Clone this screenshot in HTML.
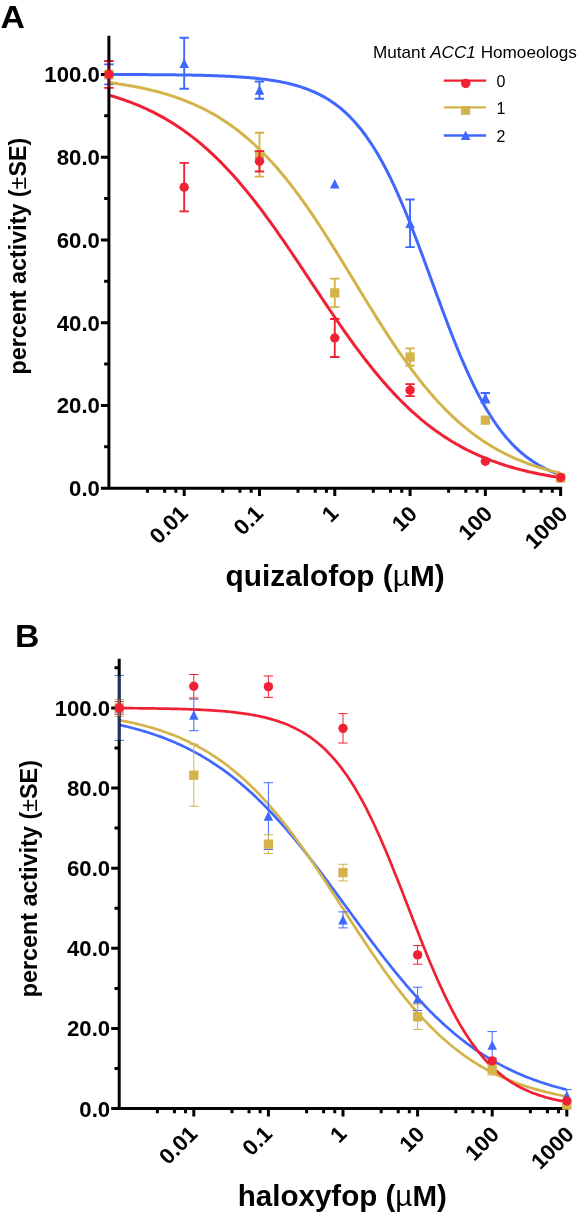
<!DOCTYPE html>
<html lang="en"><head><meta charset="utf-8"><title>Dose response: quizalofop and haloxyfop</title>
<style>html,body{margin:0;padding:0;background:#fff}svg{display:block;will-change:transform;opacity:.999}</style></head><body>
<svg width="579" height="1218" viewBox="0 0 579 1218">
<rect width="579" height="1218" fill="#fff"/>
<g id="panelA">
<path d="M108.9 64.39V84.41M104.2 64.39H113.6M104.2 84.41H113.6" stroke="#4068FF" stroke-width="1.9" fill="none"/>
<path d="M108.9 71.92V76.88M104.2 71.92H113.6M104.2 76.88H113.6" stroke="#D4B44A" stroke-width="1.9" fill="none"/>
<path d="M108.9 60.95V87.85M104.2 60.95H113.6M104.2 87.85H113.6" stroke="#F02035" stroke-width="1.9" fill="none"/>
<path d="M108.9 69.65L113.65 79.15H104.15Z" fill="#4068FF"/>
<rect x="104.25" y="69.75" width="9.3" height="9.3" fill="#D4B44A"/>
<path d="M108.9 74.48L110.78 74.48L112.66 74.49L114.55 74.49L116.43 74.5L118.31 74.5L120.19 74.51L122.08 74.51L123.96 74.52L125.84 74.53L127.72 74.53L129.6 74.54L131.49 74.55L133.37 74.55L135.25 74.56L137.13 74.57L139.02 74.58L140.9 74.59L142.78 74.6L144.66 74.61L146.55 74.62L148.43 74.63L150.31 74.64L152.19 74.65L154.07 74.67L155.96 74.68L157.84 74.69L159.72 74.71L161.6 74.72L163.49 74.74L165.37 74.76L167.25 74.78L169.13 74.8L171.01 74.82L172.9 74.84L174.78 74.86L176.66 74.88L178.54 74.91L180.43 74.93L182.31 74.96L184.19 74.99L186.07 75.02L187.95 75.05L189.84 75.08L191.72 75.12L193.6 75.16L195.48 75.19L197.37 75.23L199.25 75.28L201.13 75.32L203.01 75.37L204.89 75.42L206.78 75.47L208.66 75.52L210.54 75.58L212.42 75.64L214.31 75.7L216.19 75.77L218.07 75.84L219.95 75.91L221.84 75.99L223.72 76.07L225.6 76.16L227.48 76.25L229.36 76.34L231.25 76.44L233.13 76.54L235.01 76.65L236.89 76.77L238.78 76.89L240.66 77.01L242.54 77.14L244.42 77.28L246.3 77.43L248.19 77.58L250.07 77.74L251.95 77.91L253.83 78.09L255.72 78.28L257.6 78.47L259.48 78.68L261.36 78.9L263.24 79.12L265.13 79.36L267.01 79.61L268.89 79.87L270.77 80.15L272.66 80.44L274.54 80.74L276.42 81.06L278.3 81.39L280.18 81.75L282.07 82.11L283.95 82.5L285.83 82.9L287.71 83.33L289.6 83.78L291.48 84.24L293.36 84.73L295.24 85.25L297.12 85.78L299.01 86.35L300.89 86.94L302.77 87.56L304.65 88.21L306.54 88.89L308.42 89.6L310.3 90.35L312.18 91.13L314.07 91.95L315.95 92.8L317.83 93.7L319.71 94.64L321.59 95.62L323.48 96.64L325.36 97.71L327.24 98.83L329.12 100.01L331.01 101.23L332.89 102.5L334.77 103.84L336.65 105.23L338.53 106.68L340.42 108.19L342.3 109.77L344.18 111.41L346.06 113.13L347.95 114.91L349.83 116.77L351.71 118.7L353.59 120.71L355.47 122.79L357.36 124.96L359.24 127.22L361.12 129.55L363 131.98L364.89 134.49L366.77 137.09L368.65 139.79L370.53 142.58L372.42 145.46L374.3 148.44L376.18 151.51L378.06 154.69L379.94 157.96L381.83 161.33L383.71 164.8L385.59 168.36L387.47 172.03L389.36 175.79L391.24 179.65L393.12 183.61L395 187.66L396.88 191.8L398.77 196.03L400.65 200.35L402.53 204.75L404.41 209.24L406.3 213.8L408.18 218.44L410.06 223.15L411.94 227.93L413.82 232.77L415.71 237.67L417.59 242.61L419.47 247.61L421.35 252.64L423.24 257.71L425.12 262.81L427 267.93L428.88 273.06L430.76 278.21L432.65 283.36L434.53 288.51L436.41 293.65L438.29 298.77L440.18 303.87L442.06 308.95L443.94 313.99L445.82 318.99L447.71 323.95L449.59 328.86L451.47 333.71L453.35 338.5L455.23 343.22L457.12 347.87L459 352.45L460.88 356.96L462.76 361.38L464.65 365.71L466.53 369.96L468.41 374.12L470.29 378.19L472.17 382.17L474.06 386.04L475.94 389.83L477.82 393.51L479.7 397.1L481.59 400.59L483.47 403.98L485.35 407.27L487.23 410.46L489.11 413.56L491 416.55L492.88 419.46L494.76 422.26L496.64 424.98L498.53 427.6L500.41 430.13L502.29 432.57L504.17 434.92L506.05 437.19L507.94 439.38L509.82 441.48L511.7 443.51L513.58 445.45L515.47 447.32L517.35 449.12L519.23 450.85L521.11 452.51L523 454.1L524.88 455.62L526.76 457.09L528.64 458.49L530.52 459.83L532.41 461.12L534.29 462.35L536.17 463.54L538.05 464.67L539.94 465.75L541.82 466.78L543.7 467.77L545.58 468.72L547.46 469.62L549.35 470.48L551.23 471.31L553.11 472.1L554.99 472.85L556.88 473.57L558.76 474.26L560.64 474.91" stroke="#4068FF" stroke-width="3.0" fill="none" stroke-linejoin="round"/>
<path d="M108.9 82.58L110.78 82.83L112.66 83.08L114.55 83.34L116.43 83.6L118.31 83.87L120.19 84.16L122.08 84.44L123.96 84.74L125.84 85.05L127.72 85.36L129.6 85.69L131.49 86.02L133.37 86.36L135.25 86.72L137.13 87.08L139.02 87.45L140.9 87.84L142.78 88.23L144.66 88.64L146.55 89.05L148.43 89.48L150.31 89.92L152.19 90.38L154.07 90.84L155.96 91.32L157.84 91.81L159.72 92.32L161.6 92.84L163.49 93.38L165.37 93.93L167.25 94.49L169.13 95.07L171.01 95.67L172.9 96.28L174.78 96.91L176.66 97.55L178.54 98.21L180.43 98.9L182.31 99.59L184.19 100.31L186.07 101.05L187.95 101.81L189.84 102.58L191.72 103.38L193.6 104.19L195.48 105.03L197.37 105.89L199.25 106.77L201.13 107.68L203.01 108.61L204.89 109.56L206.78 110.53L208.66 111.53L210.54 112.56L212.42 113.61L214.31 114.68L216.19 115.78L218.07 116.91L219.95 118.07L221.84 119.25L223.72 120.46L225.6 121.7L227.48 122.97L229.36 124.27L231.25 125.6L233.13 126.95L235.01 128.34L236.89 129.76L238.78 131.21L240.66 132.7L242.54 134.21L244.42 135.76L246.3 137.34L248.19 138.96L250.07 140.6L251.95 142.28L253.83 144L255.72 145.75L257.6 147.54L259.48 149.36L261.36 151.21L263.24 153.1L265.13 155.03L267.01 156.99L268.89 158.98L270.77 161.02L272.66 163.08L274.54 165.19L276.42 167.33L278.3 169.5L280.18 171.71L282.07 173.96L283.95 176.24L285.83 178.55L287.71 180.9L289.6 183.29L291.48 185.71L293.36 188.16L295.24 190.64L297.12 193.16L299.01 195.71L300.89 198.3L302.77 200.91L304.65 203.55L306.54 206.23L308.42 208.93L310.3 211.66L312.18 214.42L314.07 217.21L315.95 220.02L317.83 222.86L319.71 225.72L321.59 228.6L323.48 231.51L325.36 234.44L327.24 237.39L329.12 240.35L331.01 243.34L332.89 246.34L334.77 249.35L336.65 252.38L338.53 255.42L340.42 258.48L342.3 261.54L344.18 264.61L346.06 267.69L347.95 270.78L349.83 273.87L351.71 276.97L353.59 280.06L355.47 283.16L357.36 286.25L359.24 289.35L361.12 292.44L363 295.52L364.89 298.6L366.77 301.67L368.65 304.73L370.53 307.78L372.42 310.82L374.3 313.85L376.18 316.86L378.06 319.86L379.94 322.84L381.83 325.8L383.71 328.75L385.59 331.67L387.47 334.57L389.36 337.45L391.24 340.31L393.12 343.14L395 345.95L396.88 348.73L398.77 351.49L400.65 354.21L402.53 356.91L404.41 359.58L406.3 362.22L408.18 364.82L410.06 367.4L411.94 369.94L413.82 372.46L415.71 374.94L417.59 377.38L419.47 379.79L421.35 382.17L423.24 384.51L425.12 386.82L427 389.1L428.88 391.33L430.76 393.54L432.65 395.71L434.53 397.84L436.41 399.93L438.29 401.99L440.18 404.02L442.06 406.01L443.94 407.96L445.82 409.88L447.71 411.76L449.59 413.61L451.47 415.42L453.35 417.2L455.23 418.95L457.12 420.65L459 422.33L460.88 423.97L462.76 425.58L464.65 427.15L466.53 428.69L468.41 430.2L470.29 431.68L472.17 433.12L474.06 434.54L475.94 435.92L477.82 437.27L479.7 438.59L481.59 439.89L483.47 441.15L485.35 442.38L487.23 443.59L489.11 444.77L491 445.92L492.88 447.04L494.76 448.14L496.64 449.21L498.53 450.25L500.41 451.27L502.29 452.26L504.17 453.23L506.05 454.18L507.94 455.1L509.82 456L511.7 456.88L513.58 457.74L515.47 458.57L517.35 459.38L519.23 460.18L521.11 460.95L523 461.7L524.88 462.43L526.76 463.15L528.64 463.84L530.52 464.52L532.41 465.18L534.29 465.82L536.17 466.45L538.05 467.05L539.94 467.65L541.82 468.22L543.7 468.79L545.58 469.33L547.46 469.86L549.35 470.38L551.23 470.88L553.11 471.37L554.99 471.85L556.88 472.31L558.76 472.77L560.64 473.2" stroke="#D4B44A" stroke-width="3.0" fill="none" stroke-linejoin="round"/>
<path d="M108.9 95.11L110.78 95.65L112.66 96.22L114.55 96.79L116.43 97.38L118.31 97.98L120.19 98.6L122.08 99.23L123.96 99.88L125.84 100.55L127.72 101.23L129.6 101.92L131.49 102.64L133.37 103.37L135.25 104.12L137.13 104.88L139.02 105.67L140.9 106.47L142.78 107.29L144.66 108.13L146.55 109L148.43 109.88L150.31 110.78L152.19 111.7L154.07 112.64L155.96 113.6L157.84 114.59L159.72 115.6L161.6 116.63L163.49 117.68L165.37 118.75L167.25 119.85L169.13 120.98L171.01 122.12L172.9 123.3L174.78 124.49L176.66 125.71L178.54 126.96L180.43 128.23L182.31 129.53L184.19 130.86L186.07 132.21L187.95 133.59L189.84 135L191.72 136.43L193.6 137.89L195.48 139.38L197.37 140.9L199.25 142.45L201.13 144.02L203.01 145.63L204.89 147.26L206.78 148.92L208.66 150.62L210.54 152.34L212.42 154.09L214.31 155.87L216.19 157.68L218.07 159.52L219.95 161.4L221.84 163.3L223.72 165.23L225.6 167.19L227.48 169.18L229.36 171.2L231.25 173.26L233.13 175.34L235.01 177.45L236.89 179.59L238.78 181.75L240.66 183.95L242.54 186.18L244.42 188.43L246.3 190.71L248.19 193.02L250.07 195.36L251.95 197.72L253.83 200.11L255.72 202.53L257.6 204.97L259.48 207.44L261.36 209.93L263.24 212.44L265.13 214.98L267.01 217.54L268.89 220.12L270.77 222.72L272.66 225.35L274.54 227.99L276.42 230.65L278.3 233.33L280.18 236.03L282.07 238.74L283.95 241.47L285.83 244.21L287.71 246.97L289.6 249.73L291.48 252.51L293.36 255.3L295.24 258.11L297.12 260.91L299.01 263.73L300.89 266.55L302.77 269.38L304.65 272.22L306.54 275.05L308.42 277.89L310.3 280.73L312.18 283.57L314.07 286.41L315.95 289.25L317.83 292.08L319.71 294.92L321.59 297.74L323.48 300.56L325.36 303.37L327.24 306.18L329.12 308.97L331.01 311.76L332.89 314.53L334.77 317.29L336.65 320.04L338.53 322.77L340.42 325.49L342.3 328.19L344.18 330.88L346.06 333.55L347.95 336.2L349.83 338.83L351.71 341.44L353.59 344.03L355.47 346.6L357.36 349.14L359.24 351.67L361.12 354.17L363 356.64L364.89 359.1L366.77 361.52L368.65 363.92L370.53 366.3L372.42 368.64L374.3 370.97L376.18 373.26L378.06 375.52L379.94 377.76L381.83 379.97L383.71 382.15L385.59 384.3L387.47 386.42L389.36 388.52L391.24 390.58L393.12 392.61L395 394.62L396.88 396.59L398.77 398.53L400.65 400.45L402.53 402.33L404.41 404.18L406.3 406.01L408.18 407.8L410.06 409.56L411.94 411.3L413.82 413L415.71 414.68L417.59 416.32L419.47 417.94L421.35 419.53L423.24 421.08L425.12 422.61L427 424.12L428.88 425.59L430.76 427.03L432.65 428.45L434.53 429.84L436.41 431.2L438.29 432.54L440.18 433.85L442.06 435.13L443.94 436.39L445.82 437.62L447.71 438.83L449.59 440.01L451.47 441.17L453.35 442.3L455.23 443.41L457.12 444.49L459 445.56L460.88 446.59L462.76 447.61L464.65 448.6L466.53 449.58L468.41 450.53L470.29 451.46L472.17 452.37L474.06 453.26L475.94 454.12L477.82 454.97L479.7 455.8L481.59 456.61L483.47 457.4L485.35 458.18L487.23 458.93L489.11 459.67L491 460.39L492.88 461.1L494.76 461.78L496.64 462.45L498.53 463.11L500.41 463.75L502.29 464.37L504.17 464.98L506.05 465.58L507.94 466.16L509.82 466.72L511.7 467.28L513.58 467.81L515.47 468.34L517.35 468.85L519.23 469.35L521.11 469.84L523 470.32L524.88 470.78L526.76 471.23L528.64 471.67L530.52 472.1L532.41 472.52L534.29 472.93L536.17 473.33L538.05 473.72L539.94 474.1L541.82 474.47L543.7 474.83L545.58 475.18L547.46 475.52L549.35 475.85L551.23 476.18L553.11 476.49L554.99 476.8L556.88 477.1L558.76 477.4L560.64 477.68" stroke="#F02035" stroke-width="3.0" fill="none" stroke-linejoin="round"/>
<path d="M108.9 35.7V489.7M100.9 488.2H562.14M100.9 488.2H108.9M100.9 405.44H108.9M100.9 322.68H108.9M100.9 239.92H108.9M100.9 157.16H108.9M100.9 74.4H108.9M104.15 446.82H108.9M104.15 364.06H108.9M104.15 281.3H108.9M104.15 198.54H108.9M104.15 115.78H108.9M184.19 488.2V496M259.48 488.2V496M334.77 488.2V496M410.06 488.2V496M485.35 488.2V496M560.64 488.2V496M147.44 488.2V492.8M164.64 488.2V492.8M175.86 488.2V492.8M222.73 488.2V492.8M239.93 488.2V492.8M251.15 488.2V492.8M298.02 488.2V492.8M315.22 488.2V492.8M326.44 488.2V492.8M373.31 488.2V492.8M390.51 488.2V492.8M401.73 488.2V492.8M448.6 488.2V492.8M465.8 488.2V492.8M477.02 488.2V492.8M523.89 488.2V492.8M541.09 488.2V492.8M552.31 488.2V492.8" stroke="#000" stroke-width="3.0" fill="none"/>
<path d="M108.9 60.95V87.85" stroke="#F02035" stroke-width="0.8" fill="none"/>
<path d="M184.19 37.78V88.68M179.49 37.78H188.89M179.49 88.68H188.89" stroke="#4068FF" stroke-width="1.9" fill="none"/>
<path d="M184.19 58.48L188.94 67.98H179.44Z" fill="#4068FF"/>
<path d="M184.19 162.91V211.41M179.49 162.91H188.89M179.49 211.41H188.89" stroke="#F02035" stroke-width="1.9" fill="none"/>
<circle cx="184.19" cy="187.16" r="4.7" fill="#F02035"/>
<path d="M259.48 81.43V98.81M254.78 81.43H264.18M254.78 98.81H264.18" stroke="#4068FF" stroke-width="1.9" fill="none"/>
<path d="M259.48 85.37L264.23 94.87H254.73Z" fill="#4068FF"/>
<path d="M259.48 132.75V176.61M254.78 132.75H264.18M254.78 176.61H264.18" stroke="#D4B44A" stroke-width="1.9" fill="none"/>
<rect x="254.83" y="150.03" width="9.3" height="9.3" fill="#D4B44A"/>
<path d="M259.48 151.16V171.44M254.78 151.16H264.18M254.78 171.44H264.18" stroke="#F02035" stroke-width="1.9" fill="none"/>
<circle cx="259.48" cy="161.3" r="4.7" fill="#F02035"/>
<path d="M334.77 179.1L339.52 188.6H330.02Z" fill="#4068FF"/>
<path d="M334.77 278.61V307.16M330.07 278.61H339.47M330.07 307.16H339.47" stroke="#D4B44A" stroke-width="1.9" fill="none"/>
<rect x="330.12" y="288.24" width="9.3" height="9.3" fill="#D4B44A"/>
<path d="M334.77 318.96V357.03M330.07 318.96H339.47M330.07 357.03H339.47" stroke="#F02035" stroke-width="1.9" fill="none"/>
<circle cx="334.77" cy="337.99" r="4.7" fill="#F02035"/>
<path d="M410.06 199.57V247.16M405.36 199.57H414.76M405.36 247.16H414.76" stroke="#4068FF" stroke-width="1.9" fill="none"/>
<path d="M410.06 218.62L414.81 228.12H405.31Z" fill="#4068FF"/>
<path d="M410.06 348.34V365.72M405.36 348.34H414.76M405.36 365.72H414.76" stroke="#D4B44A" stroke-width="1.9" fill="none"/>
<rect x="405.41" y="352.38" width="9.3" height="9.3" fill="#D4B44A"/>
<path d="M410.06 384.13V396.13M405.36 384.13H414.76M405.36 396.13H414.76" stroke="#F02035" stroke-width="1.9" fill="none"/>
<circle cx="410.06" cy="390.13" r="4.7" fill="#F02035"/>
<path d="M485.35 393.07V402.58M480.65 393.07H490.05M480.65 402.58H490.05" stroke="#4068FF" stroke-width="1.9" fill="none"/>
<path d="M485.35 393.08L490.1 402.58H480.6Z" fill="#4068FF"/>
<rect x="480.7" y="415.48" width="9.3" height="9.3" fill="#D4B44A"/>
<circle cx="485.35" cy="461.3" r="4.7" fill="#F02035"/>
<path d="M560.64 472.69L565.39 482.19H555.89Z" fill="#4068FF"/>
<rect x="555.99" y="473.21" width="9.3" height="9.3" fill="#D4B44A"/>
<circle cx="560.64" cy="477.44" r="4.7" fill="#F02035"/>
<circle cx="108.9" cy="74.4" r="4.7" fill="#F02035"/>
<g font-family='"Liberation Sans", Arial, Helvetica, sans-serif' font-weight="bold" fill="#000">
<text x="99.9" y="496.1" font-size="22.2" text-anchor="end">0.0</text>
<text x="99.9" y="413.34" font-size="22.2" text-anchor="end">20.0</text>
<text x="99.9" y="330.58" font-size="22.2" text-anchor="end">40.0</text>
<text x="99.9" y="247.82" font-size="22.2" text-anchor="end">60.0</text>
<text x="99.9" y="165.06" font-size="22.2" text-anchor="end">80.0</text>
<text x="99.9" y="82.3" font-size="22.2" text-anchor="end">100.0</text>
<text transform="translate(189.19 514.8) rotate(-45)" font-size="22.2" text-anchor="end">0.01</text>
<text transform="translate(264.48 514.8) rotate(-45)" font-size="22.2" text-anchor="end">0.1</text>
<text transform="translate(339.77 514.8) rotate(-45)" font-size="22.2" text-anchor="end">1</text>
<text transform="translate(418.41 515.3) rotate(-45)" font-size="22.2" text-anchor="end">10</text>
<text transform="translate(493.7 515.3) rotate(-45)" font-size="22.2" text-anchor="end">100</text>
<text transform="translate(568.99 515.3) rotate(-45)" font-size="22.2" text-anchor="end">1000</text>
<text x="335.15" y="586.1" font-size="29.8" text-anchor="middle">quizalofop (<tspan font-weight="normal">µ</tspan>M)</text>
<text transform="translate(26.2 256.15) rotate(-90)" font-size="23.3" text-anchor="middle">percent activity (<tspan font-weight="normal">±</tspan>SE)</text>
<text transform="translate(0.4 28.1) scale(1.09 1)" font-size="31">A</text>
</g>
</g>
<g id="panelB">
<path d="M119.2 675.44V740.36M114.5 675.44H123.9M114.5 740.36H123.9" stroke="#4068FF" stroke-width="1.0" fill="none"/>
<path d="M119.2 699.49V716.31M114.5 699.49H123.9M114.5 716.31H123.9" stroke="#D4B44A" stroke-width="1.0" fill="none"/>
<path d="M119.2 701.61V714.19M114.5 701.61H123.9M114.5 714.19H123.9" stroke="#F02035" stroke-width="1.0" fill="none"/>
<path d="M119.2 703.15L123.95 712.65H114.45Z" fill="#4068FF"/>
<rect x="114.55" y="703.25" width="9.3" height="9.3" fill="#D4B44A"/>
<path d="M119.2 724.81L121.06 725.22L122.93 725.65L124.8 726.09L126.66 726.54L128.53 727L130.39 727.47L132.25 727.95L134.12 728.44L135.99 728.94L137.85 729.46L139.72 729.99L141.58 730.53L143.45 731.08L145.31 731.64L147.18 732.22L149.04 732.81L150.9 733.41L152.77 734.03L154.63 734.66L156.5 735.3L158.37 735.96L160.23 736.64L162.1 737.33L163.96 738.03L165.82 738.75L167.69 739.49L169.55 740.24L171.42 741L173.28 741.79L175.15 742.59L177.01 743.41L178.88 744.24L180.75 745.09L182.61 745.97L184.47 746.85L186.34 747.76L188.2 748.69L190.07 749.63L191.94 750.6L193.8 751.58L195.66 752.59L197.53 753.61L199.39 754.66L201.26 755.72L203.12 756.81L204.99 757.91L206.86 759.04L208.72 760.19L210.59 761.37L212.45 762.56L214.31 763.78L216.18 765.02L218.04 766.28L219.91 767.56L221.77 768.87L223.64 770.21L225.5 771.56L227.37 772.94L229.24 774.34L231.1 775.77L232.96 777.22L234.83 778.7L236.69 780.2L238.56 781.73L240.43 783.28L242.29 784.85L244.16 786.45L246.02 788.08L247.88 789.73L249.75 791.41L251.62 793.11L253.48 794.83L255.34 796.58L257.21 798.36L259.07 800.16L260.94 801.99L262.81 803.84L264.67 805.72L266.54 807.62L268.4 809.54L270.26 811.49L272.13 813.47L274 815.46L275.86 817.49L277.72 819.53L279.59 821.6L281.45 823.69L283.32 825.8L285.19 827.94L287.05 830.1L288.91 832.28L290.78 834.48L292.64 836.7L294.51 838.95L296.38 841.21L298.24 843.49L300.1 845.79L301.97 848.11L303.83 850.45L305.7 852.8L307.56 855.17L309.43 857.56L311.3 859.96L313.16 862.38L315.02 864.81L316.89 867.25L318.75 869.71L320.62 872.18L322.49 874.66L324.35 877.16L326.21 879.66L328.08 882.17L329.94 884.69L331.81 887.21L333.68 889.75L335.54 892.29L337.4 894.83L339.27 897.38L341.13 899.93L343 902.49L344.86 905.05L346.73 907.61L348.59 910.16L350.46 912.72L352.32 915.28L354.19 917.83L356.05 920.38L357.92 922.93L359.78 925.47L361.65 928.01L363.51 930.54L365.38 933.06L367.25 935.58L369.11 938.09L370.97 940.58L372.84 943.07L374.7 945.54L376.57 948.01L378.44 950.46L380.3 952.9L382.16 955.32L384.03 957.73L385.89 960.13L387.76 962.51L389.62 964.87L391.49 967.22L393.35 969.54L395.22 971.85L397.08 974.14L398.95 976.42L400.81 978.67L402.68 980.9L404.54 983.11L406.41 985.3L408.27 987.47L410.14 989.62L412 991.75L413.87 993.85L415.73 995.93L417.6 997.99L419.46 1000.02L421.33 1002.03L423.19 1004.02L425.06 1005.98L426.92 1007.92L428.79 1009.83L430.65 1011.72L432.52 1013.58L434.38 1015.42L436.25 1017.23L438.12 1019.02L439.98 1020.79L441.84 1022.53L443.71 1024.24L445.57 1025.93L447.44 1027.59L449.3 1029.23L451.17 1030.84L453.03 1032.43L454.9 1033.99L456.76 1035.53L458.63 1037.05L460.49 1038.53L462.36 1040L464.22 1041.44L466.09 1042.86L467.95 1044.25L469.82 1045.61L471.68 1046.96L473.55 1048.28L475.41 1049.58L477.28 1050.85L479.14 1052.1L481.01 1053.33L482.87 1054.54L484.74 1055.72L486.6 1056.88L488.47 1058.02L490.33 1059.14L492.2 1060.23L494.06 1061.31L495.93 1062.37L497.79 1063.4L499.66 1064.41L501.52 1065.41L503.39 1066.38L505.25 1067.34L507.12 1068.27L508.98 1069.19L510.85 1070.09L512.72 1070.97L514.58 1071.83L516.45 1072.67L518.31 1073.5L520.17 1074.31L522.04 1075.1L523.9 1075.88L525.77 1076.64L527.63 1077.38L529.5 1078.11L531.37 1078.82L533.23 1079.52L535.1 1080.2L536.96 1080.86L538.82 1081.52L540.69 1082.16L542.55 1082.78L544.42 1083.39L546.28 1083.99L548.15 1084.57L550.01 1085.14L551.88 1085.7L553.75 1086.24L555.61 1086.78L557.48 1087.3L559.34 1087.81L561.2 1088.3L563.07 1088.79L564.93 1089.27L566.8 1089.73" stroke="#4068FF" stroke-width="2.7" fill="none" stroke-linejoin="round"/>
<path d="M119.2 720.16L121.06 720.5L122.93 720.86L124.8 721.23L126.66 721.6L128.53 721.99L130.39 722.39L132.25 722.79L134.12 723.21L135.99 723.64L137.85 724.09L139.72 724.54L141.58 725.01L143.45 725.48L145.31 725.98L147.18 726.48L149.04 727L150.9 727.53L152.77 728.07L154.63 728.63L156.5 729.21L158.37 729.8L160.23 730.4L162.1 731.02L163.96 731.66L165.82 732.31L167.69 732.98L169.55 733.67L171.42 734.37L173.28 735.09L175.15 735.83L177.01 736.59L178.88 737.37L180.75 738.17L182.61 738.98L184.47 739.82L186.34 740.68L188.2 741.56L190.07 742.46L191.94 743.38L193.8 744.32L195.66 745.29L197.53 746.27L199.39 747.29L201.26 748.32L203.12 749.38L204.99 750.47L206.86 751.58L208.72 752.71L210.59 753.87L212.45 755.06L214.31 756.27L216.18 757.51L218.04 758.78L219.91 760.07L221.77 761.4L223.64 762.75L225.5 764.13L227.37 765.53L229.24 766.97L231.1 768.44L232.96 769.94L234.83 771.46L236.69 773.02L238.56 774.61L240.43 776.23L242.29 777.88L244.16 779.56L246.02 781.27L247.88 783.01L249.75 784.79L251.62 786.6L253.48 788.44L255.34 790.31L257.21 792.21L259.07 794.15L260.94 796.11L262.81 798.11L264.67 800.15L266.54 802.21L268.4 804.3L270.26 806.43L272.13 808.59L274 810.78L275.86 813L277.72 815.25L279.59 817.53L281.45 819.84L283.32 822.18L285.19 824.55L287.05 826.95L288.91 829.38L290.78 831.83L292.64 834.31L294.51 836.82L296.38 839.36L298.24 841.92L300.1 844.5L301.97 847.11L303.83 849.74L305.7 852.39L307.56 855.07L309.43 857.76L311.3 860.48L313.16 863.21L315.02 865.96L316.89 868.73L318.75 871.51L320.62 874.31L322.49 877.12L324.35 879.95L326.21 882.79L328.08 885.63L329.94 888.49L331.81 891.35L333.68 894.22L335.54 897.1L337.4 899.98L339.27 902.87L341.13 905.75L343 908.64L344.86 911.53L346.73 914.42L348.59 917.3L350.46 920.18L352.32 923.06L354.19 925.93L356.05 928.79L357.92 931.64L359.78 934.49L361.65 937.32L363.51 940.14L365.38 942.95L367.25 945.75L369.11 948.53L370.97 951.29L372.84 954.04L374.7 956.76L376.57 959.47L378.44 962.16L380.3 964.83L382.16 967.48L384.03 970.1L385.89 972.7L387.76 975.28L389.62 977.83L391.49 980.36L393.35 982.86L395.22 985.34L397.08 987.78L398.95 990.2L400.81 992.59L402.68 994.96L404.54 997.29L406.41 999.59L408.27 1001.87L410.14 1004.11L412 1006.32L413.87 1008.5L415.73 1010.65L417.6 1012.77L419.46 1014.85L421.33 1016.91L423.19 1018.93L425.06 1020.92L426.92 1022.88L428.79 1024.81L430.65 1026.7L432.52 1028.57L434.38 1030.4L436.25 1032.2L438.12 1033.96L439.98 1035.7L441.84 1037.4L443.71 1039.08L445.57 1040.72L447.44 1042.33L449.3 1043.91L451.17 1045.46L453.03 1046.97L454.9 1048.46L456.76 1049.92L458.63 1051.35L460.49 1052.75L462.36 1054.12L464.22 1055.47L466.09 1056.78L467.95 1058.07L469.82 1059.33L471.68 1060.56L473.55 1061.77L475.41 1062.95L477.28 1064.1L479.14 1065.23L481.01 1066.33L482.87 1067.41L484.74 1068.46L486.6 1069.49L488.47 1070.5L490.33 1071.48L492.2 1072.44L494.06 1073.38L495.93 1074.29L497.79 1075.19L499.66 1076.06L501.52 1076.91L503.39 1077.74L505.25 1078.55L507.12 1079.34L508.98 1080.12L510.85 1080.87L512.72 1081.61L514.58 1082.32L516.45 1083.02L518.31 1083.7L520.17 1084.37L522.04 1085.02L523.9 1085.65L525.77 1086.26L527.63 1086.86L529.5 1087.45L531.37 1088.02L533.23 1088.58L535.1 1089.12L536.96 1089.64L538.82 1090.16L540.69 1090.66L542.55 1091.15L544.42 1091.62L546.28 1092.08L548.15 1092.54L550.01 1092.97L551.88 1093.4L553.75 1093.82L555.61 1094.22L557.48 1094.62L559.34 1095L561.2 1095.37L563.07 1095.74L564.93 1096.09L566.8 1096.44" stroke="#D4B44A" stroke-width="2.7" fill="none" stroke-linejoin="round"/>
<path d="M119.2 708.13L121.06 708.14L122.93 708.15L124.8 708.16L126.66 708.18L128.53 708.19L130.39 708.2L132.25 708.22L134.12 708.24L135.99 708.25L137.85 708.27L139.72 708.29L141.58 708.31L143.45 708.33L145.31 708.35L147.18 708.37L149.04 708.39L150.9 708.42L152.77 708.44L154.63 708.47L156.5 708.5L158.37 708.53L160.23 708.56L162.1 708.59L163.96 708.62L165.82 708.66L167.69 708.7L169.55 708.74L171.42 708.78L173.28 708.82L175.15 708.87L177.01 708.91L178.88 708.96L180.75 709.02L182.61 709.07L184.47 709.13L186.34 709.19L188.2 709.25L190.07 709.32L191.94 709.39L193.8 709.46L195.66 709.54L197.53 709.62L199.39 709.7L201.26 709.79L203.12 709.88L204.99 709.98L206.86 710.08L208.72 710.19L210.59 710.3L212.45 710.42L214.31 710.54L216.18 710.67L218.04 710.81L219.91 710.95L221.77 711.1L223.64 711.26L225.5 711.42L227.37 711.59L229.24 711.77L231.1 711.96L232.96 712.16L234.83 712.37L236.69 712.59L238.56 712.81L240.43 713.05L242.29 713.3L244.16 713.57L246.02 713.84L247.88 714.13L249.75 714.43L251.62 714.75L253.48 715.08L255.34 715.43L257.21 715.79L259.07 716.17L260.94 716.57L262.81 716.99L264.67 717.43L266.54 717.88L268.4 718.36L270.26 718.86L272.13 719.39L274 719.94L275.86 720.51L277.72 721.12L279.59 721.74L281.45 722.4L283.32 723.09L285.19 723.81L287.05 724.56L288.91 725.35L290.78 726.17L292.64 727.02L294.51 727.92L296.38 728.86L298.24 729.83L300.1 730.85L301.97 731.92L303.83 733.03L305.7 734.18L307.56 735.39L309.43 736.65L311.3 737.96L313.16 739.32L315.02 740.75L316.89 742.23L318.75 743.77L320.62 745.37L322.49 747.04L324.35 748.77L326.21 750.57L328.08 752.44L329.94 754.38L331.81 756.4L333.68 758.49L335.54 760.65L337.4 762.9L339.27 765.22L341.13 767.62L343 770.11L344.86 772.68L346.73 775.34L348.59 778.08L350.46 780.91L352.32 783.83L354.19 786.83L356.05 789.93L357.92 793.11L359.78 796.39L361.65 799.75L363.51 803.2L365.38 806.74L367.25 810.37L369.11 814.08L370.97 817.88L372.84 821.76L374.7 825.72L376.57 829.76L378.44 833.88L380.3 838.07L382.16 842.34L384.03 846.67L385.89 851.07L387.76 855.53L389.62 860.04L391.49 864.61L393.35 869.22L395.22 873.88L397.08 878.58L398.95 883.31L400.81 888.07L402.68 892.85L404.54 897.65L406.41 902.47L408.27 907.29L410.14 912.11L412 916.92L413.87 921.73L415.73 926.52L417.6 931.29L419.46 936.03L421.33 940.74L423.19 945.42L425.06 950.05L426.92 954.64L428.79 959.17L430.65 963.65L432.52 968.08L434.38 972.44L436.25 976.73L438.12 980.95L439.98 985.1L441.84 989.17L443.71 993.17L445.57 997.08L447.44 1000.91L449.3 1004.66L451.17 1008.32L453.03 1011.9L454.9 1015.38L456.76 1018.78L458.63 1022.09L460.49 1025.31L462.36 1028.44L464.22 1031.48L466.09 1034.43L467.95 1037.3L469.82 1040.08L471.68 1042.77L473.55 1045.37L475.41 1047.89L477.28 1050.33L479.14 1052.68L481.01 1054.96L482.87 1057.16L484.74 1059.28L486.6 1061.32L488.47 1063.29L490.33 1065.19L492.2 1067.02L494.06 1068.78L495.93 1070.47L497.79 1072.1L499.66 1073.66L501.52 1075.17L503.39 1076.61L505.25 1078L507.12 1079.33L508.98 1080.61L510.85 1081.84L512.72 1083.02L514.58 1084.15L516.45 1085.23L518.31 1086.26L520.17 1087.26L522.04 1088.21L523.9 1089.12L525.77 1089.99L527.63 1090.83L529.5 1091.63L531.37 1092.39L533.23 1093.13L535.1 1093.83L536.96 1094.5L538.82 1095.14L540.69 1095.75L542.55 1096.33L544.42 1096.89L546.28 1097.43L548.15 1097.94L550.01 1098.43L551.88 1098.89L553.75 1099.34L555.61 1099.76L557.48 1100.17L559.34 1100.56L561.2 1100.93L563.07 1101.28L564.93 1101.62L566.8 1101.94" stroke="#F02035" stroke-width="2.7" fill="none" stroke-linejoin="round"/>
<path d="M119.2 658.65V1110.1M111.2 1108.6H568.3M111.2 1108.6H119.2M111.2 1028.46H119.2M111.2 948.32H119.2M111.2 868.18H119.2M111.2 788.04H119.2M111.2 707.9H119.2M114.45 1068.53H119.2M114.45 988.39H119.2M114.45 908.25H119.2M114.45 828.11H119.2M114.45 747.97H119.2M114.45 667.83H119.2M193.8 1108.6V1116.4M268.4 1108.6V1116.4M343 1108.6V1116.4M417.6 1108.6V1116.4M492.2 1108.6V1116.4M566.8 1108.6V1116.4M157.39 1108.6V1113.2M174.43 1108.6V1113.2M185.54 1108.6V1113.2M231.99 1108.6V1113.2M249.03 1108.6V1113.2M260.14 1108.6V1113.2M306.59 1108.6V1113.2M323.63 1108.6V1113.2M334.74 1108.6V1113.2M381.19 1108.6V1113.2M398.23 1108.6V1113.2M409.34 1108.6V1113.2M455.79 1108.6V1113.2M472.83 1108.6V1113.2M483.94 1108.6V1113.2M530.39 1108.6V1113.2M547.43 1108.6V1113.2M558.54 1108.6V1113.2" stroke="#000" stroke-width="3.0" fill="none"/>
<path d="M119.2 675.44V740.36" stroke="#4068FF" stroke-width="2.0" stroke-opacity="0.5" fill="none"/>
<path d="M119.2 699.49V716.31" stroke="#D4B44A" stroke-width="2.0" stroke-opacity="0.5" fill="none"/>
<path d="M119.2 701.61V714.19" stroke="#F02035" stroke-width="2.0" stroke-opacity="0.5" fill="none"/>
<path d="M193.8 699.12V730.7M189.1 699.12H198.5M189.1 730.7H198.5" stroke="#4068FF" stroke-width="1.0" fill="none"/>
<path d="M193.8 710.16L198.55 719.66H189.05Z" fill="#4068FF"/>
<path d="M193.8 744.2V806.23M189.1 744.2H198.5M189.1 806.23H198.5" stroke="#D4B44A" stroke-width="1.0" fill="none"/>
<rect x="189.15" y="770.57" width="9.3" height="9.3" fill="#D4B44A"/>
<path d="M193.8 674.52V698M189.1 674.52H198.5M189.1 698H198.5" stroke="#F02035" stroke-width="1.0" fill="none"/>
<circle cx="193.8" cy="686.26" r="4.7" fill="#F02035"/>
<path d="M268.4 782.71V849.47M263.7 782.71H273.1M263.7 849.47H273.1" stroke="#4068FF" stroke-width="1.0" fill="none"/>
<path d="M268.4 811.34L273.15 820.84H263.65Z" fill="#4068FF"/>
<path d="M268.4 834.8V853.47M263.7 834.8H273.1M263.7 853.47H273.1" stroke="#D4B44A" stroke-width="1.0" fill="none"/>
<rect x="263.75" y="839.49" width="9.3" height="9.3" fill="#D4B44A"/>
<path d="M268.4 675.96V697.36M263.7 675.96H273.1M263.7 697.36H273.1" stroke="#F02035" stroke-width="1.0" fill="none"/>
<circle cx="268.4" cy="686.66" r="4.7" fill="#F02035"/>
<path d="M343 911.86V927.88M338.3 911.86H347.7M338.3 927.88H347.7" stroke="#4068FF" stroke-width="1.0" fill="none"/>
<path d="M343 915.12L347.75 924.62H338.25Z" fill="#4068FF"/>
<path d="M343 864.29V880.88M338.3 864.29H347.7M338.3 880.88H347.7" stroke="#D4B44A" stroke-width="1.0" fill="none"/>
<rect x="338.35" y="867.94" width="9.3" height="9.3" fill="#D4B44A"/>
<path d="M343 713.63V743.04M338.3 713.63H347.7M338.3 743.04H347.7" stroke="#F02035" stroke-width="1.0" fill="none"/>
<circle cx="343" cy="728.34" r="4.7" fill="#F02035"/>
<path d="M417.6 987.19V1010.43M412.9 987.19H422.3M412.9 1010.43H422.3" stroke="#4068FF" stroke-width="1.0" fill="none"/>
<path d="M417.6 994.06L422.35 1003.56H412.85Z" fill="#4068FF"/>
<path d="M417.6 1004.22V1029.46M412.9 1004.22H422.3M412.9 1029.46H422.3" stroke="#D4B44A" stroke-width="1.0" fill="none"/>
<rect x="412.95" y="1012.19" width="9.3" height="9.3" fill="#D4B44A"/>
<path d="M417.6 945.6V964.19M412.9 945.6H422.3M412.9 964.19H422.3" stroke="#F02035" stroke-width="1.0" fill="none"/>
<circle cx="417.6" cy="954.89" r="4.7" fill="#F02035"/>
<path d="M492.2 1031.59V1058.19M487.5 1031.59H496.9M487.5 1058.19H496.9" stroke="#4068FF" stroke-width="1.0" fill="none"/>
<path d="M492.2 1040.14L496.95 1049.64H487.45Z" fill="#4068FF"/>
<path d="M492.2 1064.52V1074.94M487.5 1064.52H496.9M487.5 1074.94H496.9" stroke="#D4B44A" stroke-width="1.0" fill="none"/>
<rect x="487.55" y="1065.08" width="9.3" height="9.3" fill="#D4B44A"/>
<circle cx="492.2" cy="1060.92" r="4.7" fill="#F02035"/>
<path d="M566.8 1089.57V1101.19M562.1 1089.57H571.5M562.1 1101.19H571.5" stroke="#4068FF" stroke-width="1.0" fill="none"/>
<path d="M566.8 1090.63L571.55 1100.13H562.05Z" fill="#4068FF"/>
<rect x="562.15" y="1100.34" width="9.3" height="9.3" fill="#D4B44A"/>
<circle cx="566.8" cy="1100.99" r="4.7" fill="#F02035"/>
<circle cx="119.2" cy="707.9" r="4.7" fill="#F02035"/>
<g font-family='"Liberation Sans", Arial, Helvetica, sans-serif' font-weight="bold" fill="#000">
<text x="110.2" y="1116.5" font-size="22.2" text-anchor="end">0.0</text>
<text x="110.2" y="1036.36" font-size="22.2" text-anchor="end">20.0</text>
<text x="110.2" y="956.22" font-size="22.2" text-anchor="end">40.0</text>
<text x="110.2" y="876.08" font-size="22.2" text-anchor="end">60.0</text>
<text x="110.2" y="795.94" font-size="22.2" text-anchor="end">80.0</text>
<text x="110.2" y="715.8" font-size="22.2" text-anchor="end">100.0</text>
<text transform="translate(198.8 1135.2) rotate(-45)" font-size="22.2" text-anchor="end">0.01</text>
<text transform="translate(273.4 1135.2) rotate(-45)" font-size="22.2" text-anchor="end">0.1</text>
<text transform="translate(348 1135.2) rotate(-45)" font-size="22.2" text-anchor="end">1</text>
<text transform="translate(425.95 1135.7) rotate(-45)" font-size="22.2" text-anchor="end">10</text>
<text transform="translate(500.55 1135.7) rotate(-45)" font-size="22.2" text-anchor="end">100</text>
<text transform="translate(575.15 1135.7) rotate(-45)" font-size="22.2" text-anchor="end">1000</text>
<text x="342.3" y="1205.7" font-size="29.55" text-anchor="middle">haloxyfop (<tspan font-weight="normal">µ</tspan>M)</text>
<text transform="translate(36.6 878.7) rotate(-90)" font-size="23.35" text-anchor="middle">percent activity (<tspan font-weight="normal">±</tspan>SE)</text>
<text transform="translate(14.9 647.4) scale(1.09 1)" font-size="31">B</text>
</g>
</g>
<g id="legend" font-family='"Liberation Sans", Arial, Helvetica, sans-serif' fill="#000">
<text x="373.0" y="58.4" font-size="17.15">Mutant <tspan font-style="italic">ACC1</tspan> Homoeologs</text>
<path d="M443.8 80.6H486.1" stroke="#F02035" stroke-width="2.3"/>
<circle cx="465.75" cy="83.4" r="4.75" fill="#F02035"/>
<path d="M443.8 107.3H486.1" stroke="#D4B44A" stroke-width="2.3"/>
<rect x="461.0" y="106.1" width="9.2" height="8.8" fill="#D4B44A"/>
<path d="M443.8 135.5H486.1" stroke="#4068FF" stroke-width="2.3"/>
<path d="M465.7 130.6L470.5 139.95H460.9Z" fill="#4068FF"/>
<text x="496.6" y="86.9" font-size="16">0</text>
<text x="496.6" y="113.9" font-size="16">1</text>
<text x="496.6" y="141.5" font-size="16">2</text>
</g>
</svg></body></html>
